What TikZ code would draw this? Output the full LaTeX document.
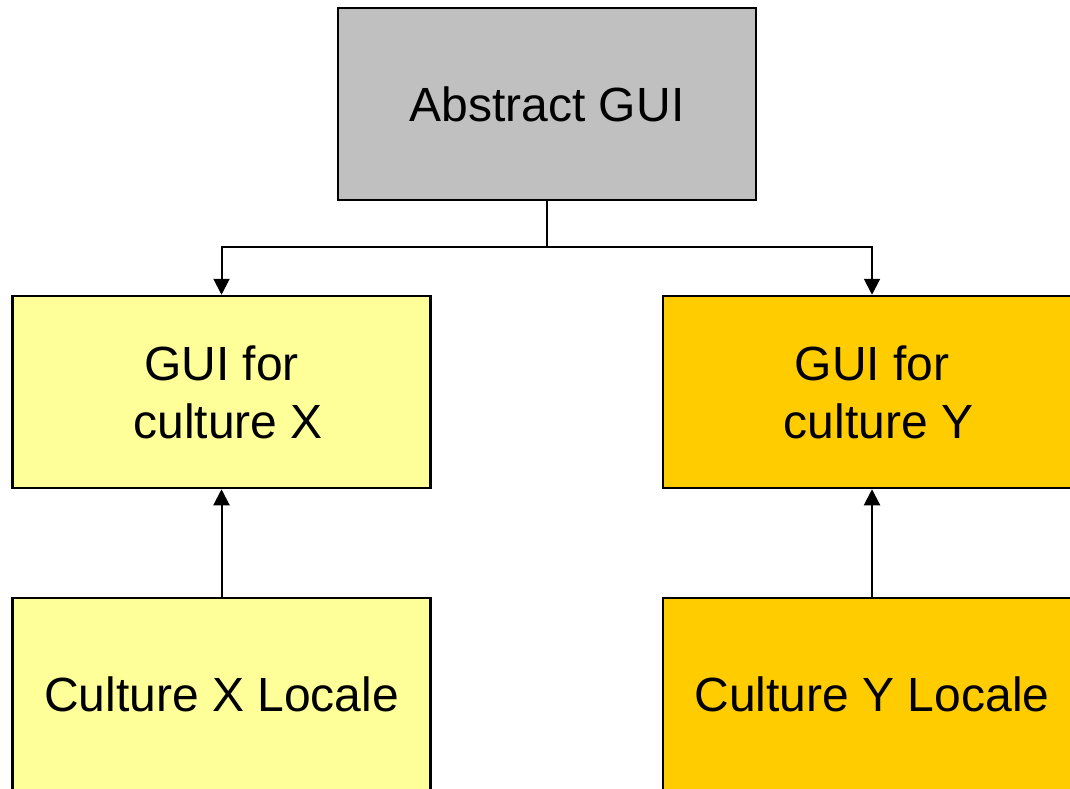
\documentclass[tikz,border=0pt]{standalone}
\usepackage{fontspec}
\setmainfont{Liberation Sans}
\usetikzlibrary{arrows.meta}
\definecolor{absgray}{HTML}{C0C0C0}
\definecolor{paleyellow}{HTML}{FFFF99}
\definecolor{gold}{HTML}{FFCC00}
\tikzset{
  box/.style={draw=black, line width=2.5pt, minimum width=418pt, minimum height=192pt,
    inner sep=0pt, align=center, font=\fontsize{48pt}{58pt}\selectfont},
  conn/.style={draw=black, line width=2pt, -{Triangle[length=16pt,width=16pt]}}
}
\begin{document}
\begin{tikzpicture}[x=1pt,y=-1pt]
\useasboundingbox (0,0) rectangle (1070,789);
\clip (0,0) rectangle (1070,789);
\fill[white] (0,0) rectangle (1070,789);
\node[box, fill=absgray] (abs) at (547,104) {Abstract GUI};
\node[box, fill=paleyellow] (gx) at (221.5,392) {GUI for\\\hspace*{0.278em}culture X};
\node[box, fill=gold] (gy) at (872,392) {GUI for\\\hspace*{0.278em}culture Y};
\node[box, fill=paleyellow] (lx) at (221.5,694) {Culture X Locale};
\node[box, fill=gold] (ly) at (872,694) {Culture Y Locale};
\coordinate (junction) at (547,247);
\draw[line width=2pt] (abs.south) -- (junction);
\draw[conn] (junction) -| (gx.north);
\draw[conn] (junction) -| (gy.north);
\draw[conn] (lx.north) -- (gx.south);
\draw[conn] (ly.north) -- (gy.south);
\end{tikzpicture}
\end{document}
